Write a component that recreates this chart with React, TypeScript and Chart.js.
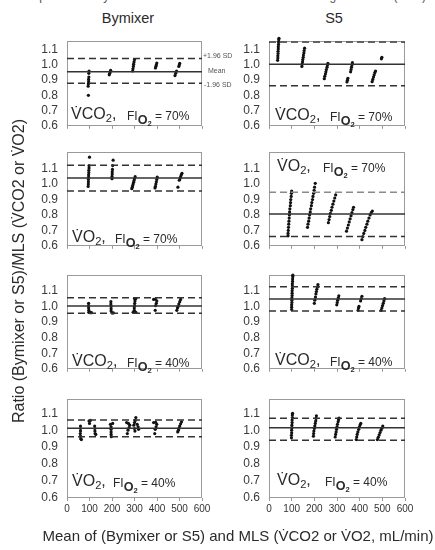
import React, { useEffect, useRef } from "react";
import { Chart, registerables } from "chart.js";
Chart.register(...registerables);

// ---------- data ----------
const xTicks = [0, 100, 200, 300, 400, 500, 600];
const yTicks = [0.6, 0.7, 0.8, 0.9, 1.0, 1.1];
const columnTitles = ["Bymixer", "S5"];
const titleText = "Comparison of Bymixer Flow or Datex S5 for Metabolic Lung Simulator (MLS)";
const yAxisTitle = "Ratio (Bymixer or S5)/MLS (V\u0307CO2 or V\u0307O2)";
const xAxisTitle = "Mean of (Bymixer or S5) and MLS (V\u0307CO2 or V\u0307O2, mL/min)";
const sdLabels = ["+1.96 SD", "Mean", "-1.96 SD"];

// points: [mean of methods, ratio]
const bymixerVCO2_70 = [
  [95, 0.8], [94, 0.86], [95, 0.875], [96, 0.89], [96, 0.905], [97, 0.92], [97, 0.945], [98, 0.96],
  [188, 0.935], [190, 0.945], [192, 0.955], [194, 0.965],
  [292, 0.96], [293, 0.975], [295, 0.99], [296, 1.005], [298, 1.02], [300, 1.035],
  [393, 0.98], [395, 0.99], [397, 1.0], [399, 1.012],
  [480, 0.93], [483, 0.945], [487, 0.96], [497, 0.99], [499, 1.0], [501, 1.01],
];
const s5VCO2_70 = [
  [38, 1.03], [39, 1.045], [39, 1.06], [40, 1.075], [40, 1.09], [41, 1.105], [41, 1.12], [42, 1.135], [42, 1.15], [43, 1.165], [44, 1.175],
  [145, 0.99], [146, 1.005], [148, 1.02], [149, 1.035], [151, 1.05], [152, 1.065], [154, 1.08], [155, 1.095], [157, 1.11],
  [244, 0.91], [246, 0.925], [249, 0.94], [251, 0.955], [253, 0.97], [256, 0.985], [258, 1.0], [260, 1.01],
  [344, 0.888], [346, 0.9], [348, 0.912], [360, 0.955], [362, 0.97], [364, 0.985], [366, 1.0], [368, 1.015],
  [455, 0.89], [458, 0.905], [461, 0.92], [464, 0.935], [467, 0.95], [470, 0.96], [496, 1.04], [498, 1.05],
];
const bymixerVO2_70 = [
  [100, 1.175], [98, 1.12], [98, 1.105], [97, 1.09], [97, 1.075], [96, 1.06], [96, 1.045], [95, 1.03], [95, 1.015], [95, 1.0], [94, 0.985],
  [205, 1.155], [203, 1.12], [202, 1.095], [201, 1.08], [201, 1.065], [200, 1.05], [200, 1.035],
  [288, 0.97], [290, 0.98], [292, 0.99], [294, 1.0], [296, 1.012], [298, 1.024], [300, 1.036], [303, 1.048],
  [391, 0.975], [393, 0.985], [395, 1.0], [397, 1.015], [399, 1.03], [401, 1.045],
  [493, 0.98], [499, 1.025], [502, 1.035], [505, 1.048], [508, 1.06], [511, 1.07],
];
const s5VO2_70 = [
  [84, 0.665], [84, 0.68], [85, 0.7], [86, 0.72], [87, 0.74], [88, 0.76], [89, 0.78], [90, 0.8], [91, 0.82], [92, 0.84], [94, 0.86], [95, 0.88], [96, 0.9], [98, 0.92], [99, 0.94], [100, 0.955],
  [170, 0.72], [172, 0.74], [175, 0.76], [177, 0.78], [179, 0.8], [182, 0.82], [184, 0.84], [187, 0.86], [189, 0.88], [192, 0.9], [194, 0.92], [197, 0.94], [199, 0.96], [201, 0.98], [204, 1.005],
  [262, 0.75], [265, 0.77], [268, 0.79], [271, 0.81], [275, 0.83], [278, 0.85], [282, 0.87], [286, 0.89], [290, 0.91], [294, 0.93],
  [342, 0.695], [346, 0.715], [350, 0.735], [354, 0.755], [358, 0.775], [362, 0.795], [366, 0.815], [370, 0.835], [373, 0.85],
  [410, 0.64], [414, 0.66], [418, 0.68], [423, 0.7], [427, 0.72], [432, 0.74], [436, 0.76], [441, 0.78], [446, 0.8], [451, 0.815], [456, 0.825],
];
const bymixerVCO2_40 = [
  [96, 1.02], [96, 1.005], [96, 0.99], [97, 0.975], [97, 0.962], [103, 0.96], [109, 0.96],
  [195, 1.03], [195, 1.015], [196, 1.0], [196, 0.985], [196, 0.97], [200, 0.958], [206, 0.958],
  [300, 1.05], [306, 1.05], [302, 1.035], [301, 1.02], [300, 1.005], [299, 0.99], [299, 0.975], [294, 0.962], [306, 0.962],
  [385, 1.045], [393, 1.047], [399, 1.035], [397, 1.02], [394, 1.005], [392, 0.975],
  [488, 0.975], [491, 0.99], [494, 1.0], [497, 1.015], [501, 1.03], [505, 1.045],
];
const s5VCO2_40 = [
  [100, 0.98], [100, 0.995], [100, 1.01], [101, 1.025], [101, 1.04], [101, 1.055], [102, 1.07], [102, 1.085], [102, 1.1], [103, 1.115], [103, 1.13], [103, 1.145], [104, 1.16], [104, 1.175], [105, 1.19], [105, 1.2],
  [200, 1.02], [202, 1.04], [205, 1.06], [207, 1.08], [209, 1.095], [211, 1.11], [214, 1.125], [216, 1.14],
  [299, 1.01], [301, 1.025], [303, 1.04], [306, 1.055], [308, 1.068],
  [393, 0.975], [395, 0.99], [397, 1.0], [404, 1.035], [407, 1.05], [410, 1.065],
  [495, 0.975], [498, 0.99], [501, 1.005], [504, 1.02], [507, 1.035], [510, 1.05],
];
const bymixerVO2_40 = [
  [60, 1.025], [60, 1.01], [60, 0.995], [59, 0.98], [60, 0.965], [61, 0.95], [64, 0.945],
  [98, 1.055], [104, 1.058], [100, 1.04], [123, 1.025], [124, 1.01], [124, 0.995], [125, 0.98], [128, 0.975],
  [193, 1.035], [203, 1.04], [196, 1.02], [196, 1.005], [196, 0.99], [196, 0.975], [197, 0.962],
  [265, 1.045], [273, 1.04], [279, 1.03], [276, 1.015], [271, 1.0], [268, 0.98],
  [306, 1.075], [303, 1.058], [300, 1.045], [297, 1.03], [300, 1.01], [302, 0.995], [312, 1.035], [316, 1.02], [318, 1.005],
  [385, 1.045], [394, 1.047], [399, 1.035], [396, 1.02], [392, 1.005], [390, 0.98],
  [492, 0.99], [495, 1.0], [498, 1.012], [501, 1.025], [505, 1.038], [509, 1.05],
];
const s5VO2_40 = [
  [99, 0.955], [99, 0.97], [100, 0.985], [100, 1.0], [101, 1.015], [101, 1.03], [102, 1.045], [102, 1.06], [103, 1.075], [103, 1.09], [104, 1.1],
  [196, 0.965], [197, 0.98], [198, 0.995], [200, 1.01], [202, 1.025], [204, 1.04], [206, 1.055], [208, 1.07], [209, 1.085],
  [292, 0.96], [294, 0.975], [296, 0.99], [298, 1.005], [300, 1.02], [302, 1.035], [305, 1.05], [307, 1.062], [309, 1.072],
  [385, 0.945], [387, 0.96], [389, 0.975], [392, 0.99], [396, 1.005], [399, 1.02], [402, 1.032], [405, 1.04],
  [478, 0.945], [482, 0.958], [486, 0.972], [490, 0.986], [494, 1.0], [498, 1.012], [502, 1.025],
];

// limits of agreement: [lower -1.96 SD, mean, upper +1.96 SD]
const bymixerVCO2_70Limits = [0.88, 0.956, 1.042];
const s5VCO2_70Limits = [0.863, 1.005, 1.15];
const bymixerVO2_70Limits = [0.955, 1.04, 1.122];
const s5VO2_70Limits = [0.66, 0.806, 0.948];
const bymixerVCO2_40Limits = [0.956, 1.002, 1.056];
const s5VCO2_40Limits = [0.97, 1.048, 1.126];
const bymixerVO2_40Limits = [0.961, 1.011, 1.061];
const s5VO2_40Limits = [0.941, 1.015, 1.07];

const gases = ["CO2", "O2"];
const fio2Values = ["70%", "40%"];

// ---------- layout ----------
const FONT = "'Liberation Sans', Arial, sans-serif";
const cols = [
  { left: 67, width: 135 },
  { left: 269, width: 136 },
];
const rows = [
  { top: 35, height: 99, ymax: 1.156 },
  { top: 146, height: 108, ymax: 1.207 },
  { top: 269, height: 108, ymax: 1.2 },
  { top: 393, height: 105, ymax: 1.183 },
];

type PanelDef = {
  row: number;
  col: number;
  points: number[][];
  limits: number[];
  gas: string;
  fio2: string;
  gasX: number;
  fiX: number;
  baseline: number;
  upperColor?: string;
};

const panels: PanelDef[] = [
  { row: 0, col: 0, points: bymixerVCO2_70, limits: bymixerVCO2_70Limits, gas: gases[0], fio2: fio2Values[0], gasX: 71, fiX: 127, baseline: 120 },
  { row: 0, col: 1, points: s5VCO2_70, limits: s5VCO2_70Limits, gas: gases[0], fio2: fio2Values[0], gasX: 275, fiX: 330, baseline: 121 },
  { row: 1, col: 0, points: bymixerVO2_70, limits: bymixerVO2_70Limits, gas: gases[1], fio2: fio2Values[0], gasX: 72, fiX: 115, baseline: 243 },
  { row: 1, col: 1, points: s5VO2_70, limits: s5VO2_70Limits, gas: gases[1], fio2: fio2Values[0], gasX: 277, fiX: 323, baseline: 172, upperColor: "#8a8a8a" },
  { row: 2, col: 0, points: bymixerVCO2_40, limits: bymixerVCO2_40Limits, gas: gases[0], fio2: fio2Values[1], gasX: 72, fiX: 127, baseline: 367 },
  { row: 2, col: 1, points: s5VCO2_40, limits: s5VCO2_40Limits, gas: gases[0], fio2: fio2Values[1], gasX: 275, fiX: 330, baseline: 366 },
  { row: 3, col: 0, points: bymixerVO2_40, limits: bymixerVO2_40Limits, gas: gases[1], fio2: fio2Values[1], gasX: 72, fiX: 113, baseline: 487 },
  { row: 3, col: 1, points: s5VO2_40, limits: s5VO2_40Limits, gas: gases[1], fio2: fio2Values[1], gasX: 277, fiX: 325, baseline: 486 },
];

const Y_AXIS_W = 40;
const PAD_TOP = 10;
const PAD_RIGHT = 14;

const boxPlugin = {
  id: "panelBox",
  beforeDatasetsDraw(chart: any) {
    const { ctx, chartArea: a } = chart;
    ctx.save();
    ctx.strokeStyle = "#9a9a9a";
    ctx.lineWidth = 1;
    ctx.strokeRect(Math.round(a.left) + 0.5, Math.round(a.top) + 0.5, Math.round(a.right - a.left) - 1, Math.round(a.bottom - a.top) - 1);
    ctx.restore();
  },
};

function Panel({ p }: { p: PanelDef }) {
  const ref = useRef<HTMLCanvasElement>(null);
  const col = cols[p.col];
  const row = rows[p.row];
  const bottom = p.row === rows.length - 1;
  const xh = bottom ? 22 : 8;
  const w = Y_AXIS_W + col.width + PAD_RIGHT;
  const h = PAD_TOP + row.height + xh;
  const left = col.left - Y_AXIS_W;
  const top = row.top - PAD_TOP;

  useEffect(() => {
    const line = (y: number, dash: number[], color: string) => ({
      type: "line" as const,
      data: [{ x: 0, y }, { x: 600, y }],
      showLine: true,
      borderColor: color,
      borderWidth: 1.5,
      borderDash: dash,
      pointRadius: 0,
      fill: false,
    });
    const chart = new Chart(ref.current!, {
      type: "scatter",
      data: {
        datasets: [
          line(p.limits[0], [7, 4], "#333"),
          line(p.limits[1], [], "#333"),
          line(p.limits[2], [7, 4], p.upperColor || "#333"),
          {
            type: "scatter",
            data: p.points.map(([x, y]) => ({ x, y })),
            pointRadius: 1.6,
            pointBackgroundColor: "#111",
            pointBorderWidth: 0,
            clip: 12,
          } as any,
        ],
      },
      options: {
        responsive: false,
        animation: false,
        devicePixelRatio: 1,
        layout: { padding: { top: PAD_TOP, right: PAD_RIGHT, left: 0, bottom: 0 } },
        plugins: { legend: { display: false }, tooltip: { enabled: false } },
        scales: {
          x: {
            type: "linear",
            min: 0,
            max: 600,
            afterBuildTicks: (s: any) => {
              s.ticks = xTicks.map((v) => ({ value: v }));
            },
            afterFit: (s: any) => {
              s.height = xh;
            },
            ticks: {
              display: bottom,
              font: { family: FONT, size: 10 },
              color: "#333",
              padding: 2,
              maxRotation: 0,
              autoSkip: false,
            },
            grid: { drawOnChartArea: false, drawTicks: true, tickLength: 3, color: "#999" },
            border: { display: false },
          },
          y: {
            type: "linear",
            min: 0.6,
            max: row.ymax,
            afterBuildTicks: (s: any) => {
              s.ticks = yTicks.map((v) => ({ value: v }));
            },
            afterFit: (s: any) => {
              s.width = Y_AXIS_W;
            },
            ticks: {
              callback: (v: any) => Number(v).toFixed(1),
              font: { family: FONT, size: 12 },
              color: "#3a3a3a",
              padding: 9,
            },
            grid: { drawOnChartArea: false, drawTicks: false },
            border: { display: false },
          },
        },
      } as any,
      plugins: [boxPlugin],
    });
    return () => chart.destroy();
  }, []);

  return (
    <canvas
      ref={ref}
      width={w}
      height={h}
      style={{ position: "absolute", left, top, width: w, height: h }}
    />
  );
}

function Txt({ x, baseline, size, children, style }: any) {
  return (
    <div
      style={{
        position: "absolute",
        left: x,
        top: baseline - 0.8465 * size,
        fontSize: size,
        lineHeight: 1,
        fontFamily: FONT,
        color: "#2a2a2a",
        whiteSpace: "nowrap",
        ...style,
      }}
    >
      {children}
    </div>
  );
}

const subStyle: React.CSSProperties = { fontSize: "0.7em", verticalAlign: "-0.3em", lineHeight: 0 };

function PanelLabels({ p }: { p: PanelDef }) {
  const gasMain = p.gas.slice(0, -1);
  const gasSub = p.gas.slice(-1);
  return (
    <>
      <Txt x={p.gasX} baseline={p.baseline} size={16}>
        {"V\u0307" + gasMain}
        <span style={subStyle}>{gasSub}</span>,
      </Txt>
      <Txt x={p.fiX} baseline={p.baseline} size={12}>
        FI
        <span style={{ fontSize: "1.05em", fontWeight: "bold", verticalAlign: "-0.35em", lineHeight: 0 }}>
          O<span style={{ fontSize: "0.6em", verticalAlign: "-0.3em" }}>2</span>
        </span>
        {" = " + p.fio2}
      </Txt>
    </>
  );
}

export default function App() {
  const panel0 = panels[0];
  const r0 = rows[0];
  const yPix = (v: number) => r0.top + r0.height - ((v - 0.6) / (r0.ymax - 0.6)) * r0.height;
  const sdValues = [panel0.limits[2], panel0.limits[1], panel0.limits[0]];
  const sdX = [203, 208, 204];
  return (
    <div style={{ position: "absolute", left: 0, top: 0, width: 435, height: 550, overflow: "hidden", background: "#fff" }}>
      <Txt x={0} baseline={0.5} size={12} style={{ width: 440, textAlign: "center", color: "#555" }}>
        {titleText}
      </Txt>
      <Txt x={128 - 40} baseline={23} size={14.5} style={{ width: 80, textAlign: "center" }}>
        {columnTitles[0]}
      </Txt>
      <Txt x={334 - 40} baseline={23} size={14.5} style={{ width: 80, textAlign: "center" }}>
        {columnTitles[1]}
      </Txt>
      {panels.map((p, i) => (
        <Panel key={i} p={p} />
      ))}
      {panels.map((p, i) => (
        <PanelLabels key={"l" + i} p={p} />
      ))}
      {sdLabels.map((t, i) => (
        <Txt key={"sd" + i} x={sdX[i]} baseline={yPix(sdValues[i]) + 2.5} size={7} style={{ color: "#555" }}>
          {t}
        </Txt>
      ))}
      <div
        style={{
          position: "absolute",
          left: 19 - 170,
          top: 271 - 9,
          width: 340,
          height: 18,
          lineHeight: "18px",
          fontSize: 16,
          fontFamily: FONT,
          color: "#2a2a2a",
          textAlign: "center",
          whiteSpace: "nowrap",
          transform: "rotate(-90deg)",
        }}
      >
        {yAxisTitle}
      </div>
      <Txt x={0} baseline={541} size={15} style={{ width: 476, textAlign: "center" }}>
        {xAxisTitle}
      </Txt>
    </div>
  );
}
